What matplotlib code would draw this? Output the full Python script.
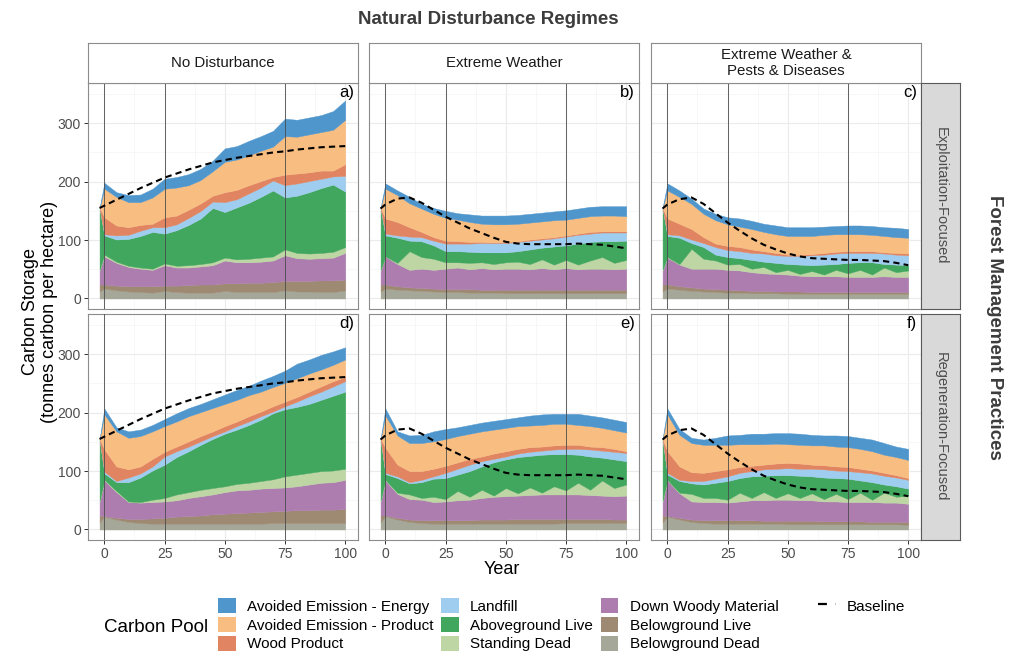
import numpy as np
import matplotlib
matplotlib.use("Agg")
import matplotlib.pyplot as plt
from matplotlib.patches import Patch
from matplotlib.lines import Line2D

plt.rcParams['font.family'] = ['Liberation Sans', 'DejaVu Sans']

# ─── Data ─────────────────────────────────────────────────────────────────────
YEARS = [-2, 0, 5, 10, 15, 20, 25, 30, 35, 40, 45, 50, 55, 60, 65, 70, 75, 80, 85, 90, 95, 100]

# stacking order, bottom -> top
POOLS = ["Belowground Dead", "Belowground Live", "Down Woody Material", "Standing Dead",
         "Aboveground Live", "Landfill", "Wood Product",
         "Avoided Emission - Product", "Avoided Emission - Energy"]
COLORS = ["#A5A898", "#9E8972", "#AD7DB0", "#BDD6A3", "#41A65E",
          "#9ECDEF", "#E08462", "#F8BD80", "#4F96CD"]

# cumulative top of each pool in the stack (tC/ha), one row per pool, bottom -> top
TOPS_A = [
    [12, 17, 14, 12, 11, 10, 13, 11, 10, 10, 10, 13, 11, 11, 11, 11, 14, 12, 12, 11, 11, 14],
    [24, 24, 22, 21, 21, 21, 22, 22, 23, 24, 24, 26, 26, 27, 27, 28, 30, 30, 30, 31, 31, 32],
    [48, 72, 61, 54, 51, 49, 57, 53, 53, 55, 57, 65, 62, 62, 63, 65, 74, 69, 68, 69, 70, 78],
    [49, 75, 63, 56, 53, 51, 60, 56, 57, 59, 62, 70, 67, 68, 70, 72, 84, 78, 77, 78, 80, 88],
    [155, 108, 101, 102, 107, 114, 111, 117, 126, 137, 155, 148, 156, 164, 174, 185, 173, 176, 182, 189, 195, 183],
    [155, 110, 108, 109, 116, 122, 122, 127, 138, 150, 166, 165, 170, 180, 190, 202, 194, 197, 201, 205, 209, 210],
    [155, 139, 125, 122, 126, 128, 139, 142, 152, 163, 176, 182, 186, 194, 201, 208, 212, 214, 216, 219, 219, 230],
    [155, 188, 174, 165, 165, 173, 188, 190, 194, 203, 218, 234, 238, 245, 253, 260, 278, 277, 281, 285, 289, 306],
    [155, 198, 182, 177, 178, 188, 205, 208, 213, 222, 236, 257, 261, 270, 278, 287, 308, 306, 310, 314, 321, 339],
]
TOPS_B = [
    [12, 17, 15, 14, 13, 12, 11, 11, 10, 10, 10, 9, 9, 9, 9, 9, 9, 9, 9, 9, 9, 9],
    [24, 24, 21, 19, 18, 17, 16, 16, 16, 15, 15, 15, 15, 15, 15, 15, 15, 15, 15, 15, 15, 15],
    [48, 72, 59, 49, 51, 49, 51, 53, 50, 52, 50, 51, 51, 50, 52, 50, 52, 50, 51, 51, 50, 51],
    [49, 72, 61, 81, 71, 68, 62, 62, 61, 62, 59, 62, 63, 59, 67, 58, 66, 58, 65, 71, 61, 66],
    [155, 108, 104, 99, 98, 91, 81, 81, 80, 79, 79, 79, 81, 84, 87, 89, 91, 94, 97, 98, 98, 99],
    [155, 111, 108, 106, 105, 99, 94, 94, 94, 95, 95, 95, 97, 99, 101, 103, 106, 109, 111, 113, 113, 113],
    [155, 137, 131, 122, 114, 105, 99, 98, 97, 97, 96, 97, 98, 101, 103, 105, 108, 111, 114, 115, 115, 115],
    [155, 188, 177, 163, 154, 145, 138, 135, 131, 128, 127, 127, 128, 130, 132, 134, 135, 138, 141, 142, 142, 141],
    [155, 197, 185, 174, 162, 155, 150, 146, 144, 142, 142, 142, 143, 145, 147, 149, 151, 154, 157, 158, 158, 158],
]
TOPS_C = [
    [12, 17, 15, 13, 12, 11, 10, 10, 9, 9, 9, 8, 8, 8, 8, 8, 8, 8, 8, 8, 8, 8],
    [24, 24, 21, 19, 17, 16, 15, 14, 13, 13, 12, 12, 12, 11, 11, 11, 11, 11, 11, 11, 11, 11],
    [48, 70, 58, 51, 51, 51, 49, 48, 45, 43, 42, 41, 39, 38, 38, 38, 37, 37, 37, 38, 37, 37],
    [49, 71, 59, 85, 68, 65, 58, 59, 51, 54, 45, 49, 42, 47, 41, 49, 43, 49, 41, 53, 45, 48],
    [155, 107, 104, 95, 88, 75, 71, 69, 66, 63, 61, 59, 58, 57, 58, 59, 61, 62, 62, 59, 58, 57],
    [155, 110, 108, 101, 95, 88, 83, 81, 78, 77, 74, 73, 73, 74, 75, 77, 78, 78, 78, 77, 75, 74],
    [155, 137, 128, 119, 105, 94, 90, 88, 84, 81, 78, 75, 75, 76, 78, 80, 81, 81, 81, 79, 78, 77],
    [155, 185, 174, 162, 145, 134, 127, 123, 119, 114, 110, 107, 107, 107, 109, 110, 110, 110, 109, 107, 105, 104],
    [155, 197, 185, 171, 154, 145, 139, 137, 133, 128, 125, 122, 122, 122, 123, 124, 125, 125, 124, 122, 121, 119],
]
TOPS_D = [
    [12, 22, 17, 13, 11, 10, 10, 10, 10, 10, 10, 10, 10, 10, 10, 11, 11, 11, 11, 11, 11, 11],
    [24, 23, 20, 18, 18, 19, 20, 22, 23, 24, 26, 27, 28, 29, 30, 31, 32, 33, 33, 34, 34, 35],
    [48, 84, 64, 47, 46, 47, 48, 50, 54, 57, 60, 64, 67, 68, 70, 71, 72, 74, 77, 80, 81, 85],
    [49, 85, 66, 48, 47, 51, 54, 60, 64, 68, 71, 74, 78, 80, 83, 86, 91, 94, 97, 100, 101, 104],
    [155, 96, 81, 81, 89, 101, 111, 124, 134, 145, 155, 164, 171, 179, 188, 199, 206, 210, 215, 222, 229, 236],
    [155, 99, 83, 89, 96, 108, 125, 134, 142, 151, 160, 168, 177, 185, 194, 202, 211, 219, 228, 236, 245, 254],
    [155, 137, 108, 103, 108, 121, 133, 142, 151, 160, 168, 177, 185, 194, 202, 211, 219, 227, 236, 245, 254, 261],
    [155, 197, 168, 157, 160, 168, 177, 185, 194, 201, 208, 215, 222, 230, 236, 244, 251, 259, 267, 274, 282, 291],
    [155, 207, 175, 168, 171, 179, 189, 199, 208, 215, 223, 231, 239, 246, 255, 263, 272, 284, 291, 299, 305, 312],
]
TOPS_E = [
    [12, 23, 17, 13, 11, 10, 10, 10, 10, 10, 10, 10, 10, 10, 10, 10, 11, 11, 11, 11, 11, 11],
    [24, 24, 20, 17, 16, 16, 16, 16, 16, 17, 17, 17, 18, 18, 18, 18, 18, 18, 18, 18, 17, 17],
    [48, 84, 61, 52, 51, 47, 48, 50, 51, 54, 56, 57, 58, 59, 60, 60, 60, 60, 59, 58, 57, 58],
    [49, 85, 63, 60, 54, 56, 52, 66, 56, 68, 58, 71, 62, 72, 63, 74, 67, 80, 68, 84, 71, 77],
    [155, 95, 88, 79, 81, 87, 88, 94, 100, 108, 115, 120, 124, 126, 128, 129, 129, 128, 125, 123, 120, 117],
    [155, 97, 91, 81, 85, 91, 97, 104, 111, 117, 121, 125, 130, 133, 135, 137, 138, 138, 137, 135, 133, 131],
    [155, 140, 111, 100, 100, 104, 109, 115, 121, 125, 130, 134, 138, 141, 142, 144, 145, 145, 142, 141, 138, 134],
    [155, 195, 161, 148, 148, 151, 155, 160, 164, 168, 171, 174, 177, 178, 179, 181, 181, 179, 177, 174, 170, 166],
    [155, 207, 168, 161, 162, 168, 172, 175, 179, 183, 186, 189, 192, 195, 197, 198, 198, 198, 195, 192, 188, 184],
]
TOPS_F = [
    [12, 22, 17, 13, 11, 10, 10, 10, 10, 10, 10, 9, 9, 9, 9, 9, 9, 9, 9, 9, 9, 8],
    [24, 23, 20, 17, 16, 16, 16, 16, 16, 15, 15, 15, 15, 15, 14, 14, 14, 14, 13, 13, 13, 13],
    [48, 84, 62, 48, 47, 47, 46, 48, 50, 50, 51, 51, 50, 50, 48, 48, 47, 47, 47, 46, 46, 44],
    [49, 85, 63, 61, 54, 54, 51, 63, 54, 64, 54, 62, 54, 62, 52, 61, 52, 63, 51, 63, 56, 58],
    [155, 94, 83, 79, 77, 80, 83, 88, 91, 92, 93, 93, 92, 91, 89, 88, 87, 84, 81, 77, 74, 70],
    [155, 97, 85, 83, 83, 87, 91, 97, 100, 103, 104, 105, 104, 104, 103, 101, 100, 98, 96, 92, 89, 85],
    [155, 134, 108, 98, 97, 100, 103, 107, 109, 111, 113, 114, 113, 111, 110, 108, 107, 104, 101, 97, 93, 88],
    [155, 197, 162, 148, 145, 145, 145, 146, 146, 146, 147, 146, 145, 144, 144, 142, 141, 138, 134, 128, 124, 119],
    [155, 207, 172, 157, 154, 157, 161, 162, 164, 164, 165, 165, 164, 162, 161, 161, 160, 157, 154, 148, 142, 138],
]

# no-management baseline per disturbance regime
BASE_NONE = [155, 159, 169, 179, 189, 198, 207, 214, 221, 227, 233, 237, 241, 244, 247, 250, 252, 255, 257, 259, 260, 261]
BASE_WEATHER = [154, 161, 171, 173, 164, 152, 140, 130, 120, 112, 104, 97, 94, 93, 93, 93, 93, 94, 93, 92, 89, 86]
BASE_PESTS = [154, 161, 170, 173, 162, 146, 130, 116, 103, 92, 84, 77, 72, 69, 68, 67, 66, 66, 65, 64, 61, 57]

DISTURBANCE = ["No Disturbance", "Extreme Weather", "Extreme Weather &\nPests & Diseases"]
MANAGEMENT = ["Exploitation-Focused", "Regeneration-Focused"]
PANEL_TAGS = [["a)", "b)", "c)"], ["d)", "e)", "f)"]]

tops = [[TOPS_A, TOPS_B, TOPS_C], [TOPS_D, TOPS_E, TOPS_F]]
baselines = [BASE_NONE, BASE_WEATHER, BASE_PESTS]

# ─── Layout (pixel boxes) ─────────────────────────────────────────────────────
W, H = 1016, 651
fig = plt.figure(figsize=(W / 100, H / 100), dpi=100)


def add_px_axes(x0, y0, x1, y1):
    return fig.add_axes([x0 / W, 1 - y1 / H, (x1 - x0) / W, (y1 - y0) / H])


COL_LEFT = [88, 369, 651]
PANEL_W = 270
ROW_TOP = [83, 314]
PANEL_H = 226
BORDER = "#8C8C8C"

for r in range(2):
    for c in range(3):
        x0, y0 = COL_LEFT[c], ROW_TOP[r]
        ax = add_px_axes(x0, y0, x0 + PANEL_W, y0 + PANEL_H)
        cum = np.array(tops[r][c], dtype=float)
        amounts = np.clip(np.diff(np.vstack([np.zeros(len(YEARS)), cum]), axis=0), 0, None)
        ax.stackplot(YEARS, amounts, colors=COLORS, linewidth=0.3, edgecolor="face", zorder=2)
        ax.plot(YEARS, baselines[c], color="black", lw=1.5, ls=(0, (3, 2)), zorder=5)
        for v in (0, 25, 75):
            ax.axvline(v, color="#4A4A4A", lw=0.6, zorder=4)

        ax.set_xlim(-6.8, 105.3)
        ax.set_ylim(-18, 369)
        ax.set_xticks([0, 25, 50, 75, 100])
        ax.set_xticks([12.5, 37.5, 62.5, 87.5], minor=True)
        ax.set_yticks([0, 100, 200, 300])
        ax.set_yticks([50, 150, 250, 350], minor=True)
        ax.grid(which="major", color="#EBEBEB", lw=0.8)
        ax.grid(which="minor", color="#F4F4F4", lw=0.5)
        ax.set_axisbelow(True)
        for s in ax.spines.values():
            s.set_color(BORDER)
            s.set_linewidth(0.8)
        ax.tick_params(which="minor", length=0)
        ax.tick_params(which="major", length=3, color="#333333", width=0.7,
                       labelcolor="#4D4D4D", labelsize=10, pad=2)
        if r == 0:
            ax.tick_params(axis="x", length=0, labelbottom=False)
        if c > 0:
            ax.tick_params(axis="y", length=0, labelleft=False)
        ax.text(0.985, 0.99, PANEL_TAGS[r][c], transform=ax.transAxes,
                ha="right", va="top", fontsize=12, color="black", zorder=6)

# column strips (top)
for c in range(3):
    x0 = COL_LEFT[c]
    sax = add_px_axes(x0, 43, x0 + PANEL_W, 83)
    sax.set_facecolor("white")
    sax.set_xticks([])
    sax.set_yticks([])
    for s in sax.spines.values():
        s.set_color(BORDER)
        s.set_linewidth(0.8)
    sax.text(0.5, 0.5, DISTURBANCE[c], ha="center", va="center", fontsize=10.8,
             color="#1A1A1A", linespacing=1.1, transform=sax.transAxes)

# row strips (right)
for r in range(2):
    y0 = ROW_TOP[r]
    sax = add_px_axes(921, y0, 960, y0 + PANEL_H)
    sax.set_facecolor("#D9D9D9")
    sax.set_xticks([])
    sax.set_yticks([])
    for s in sax.spines.values():
        s.set_color("#5A5A5A")
        s.set_linewidth(0.8)
    sax.text(0.5, 0.5, MANAGEMENT[r], ha="center", va="center", rotation=270,
             fontsize=10.5, color="#4D4D4D", transform=sax.transAxes)

# ─── Titles ───────────────────────────────────────────────────────────────────
fig.text(488 / W, 1 - 20 / H, "Natural Disturbance Regimes", ha="center", va="center",
         fontsize=13.5, fontweight="bold", color="#3C3C3C")
fig.text(994 / W, 1 - 327 / H, "Forest Management Practices", ha="center", va="center",
         rotation=270, fontsize=13.5, fontweight="bold", color="#3C3C3C")
fig.text(40 / W, 1 - 312 / H, "Carbon Storage\n(tonnes carbon per hectare)", ha="center",
         va="center", rotation=90, fontsize=13, color="black", linespacing=1.1)
fig.text(502 / W, 1 - 570 / H, "Year", ha="center", va="center", fontsize=13, color="black")

# ─── Legend ───────────────────────────────────────────────────────────────────
order = list(range(len(POOLS)))[::-1]
pool_handles = [Patch(facecolor=COLORS[i], edgecolor="none") for i in order]
pool_labels = [POOLS[i] for i in order]
fig.legend(pool_handles, pool_labels, ncol=3, loc="upper left",
           bbox_to_anchor=(218 / W, 1 - 598 / H), frameon=False, fontsize=11,
           handlelength=1.15, handleheight=1.15, handletextpad=0.75,
           columnspacing=0.5, labelspacing=0.2, borderpad=0, borderaxespad=0)
fig.legend([Line2D([], [], color="black", lw=1.6, ls=(0, (4, 4)))], ["Baseline"],
           loc="upper left", bbox_to_anchor=(818 / W, 1 - 598 / H), frameon=False,
           fontsize=11, handlelength=1.15, handleheight=1.15, handletextpad=0.75,
           borderpad=0, borderaxespad=0)
fig.text(156 / W, 1 - 628 / H, "Carbon Pool", ha="center", va="center", fontsize=13.5,
         color="black")

fig.savefig("out.png", dpi=100)
